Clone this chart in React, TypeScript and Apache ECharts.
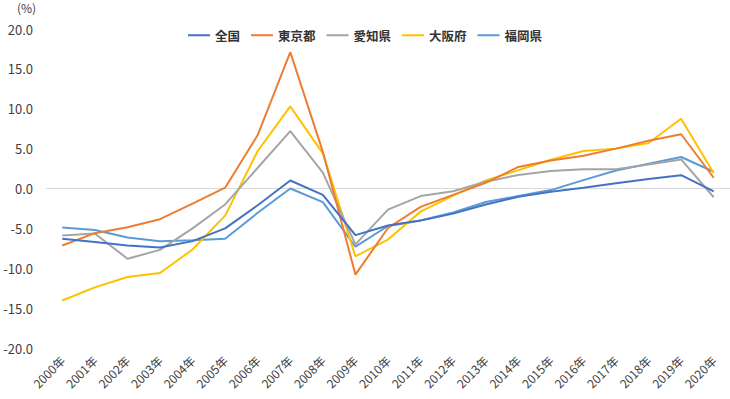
import React, { useEffect, useRef } from "react";
import * as echarts from "echarts";

const years = [
  "2000年", "2001年", "2002年", "2003年", "2004年", "2005年", "2006年", "2007年", "2008年", "2009年", "2010年",
  "2011年", "2012年", "2013年", "2014年", "2015年", "2016年", "2017年", "2018年", "2019年", "2020年",
];
const zenkoku = [-6.3, -6.7, -7.15, -7.4, -6.6, -5.0, -2.1, 1.0, -0.8, -5.85, -4.65, -4.0, -3.15, -2.0, -1.05, -0.4, 0.1, 0.65, 1.2, 1.67, -0.35];
const tokyo = [-7.15, -5.6, -4.85, -3.85, -1.9, 0.1, 6.7, 17.1, 4.6, -10.8, -4.95, -2.3, -0.8, 0.7, 2.7, 3.5, 4.1, 5.0, 6.0, 6.8, 1.35];
const aichi = [-5.9, -5.65, -8.8, -7.7, -5.0, -2.0, 2.6, 7.2, 2.0, -7.0, -2.65, -0.95, -0.35, 0.85, 1.7, 2.2, 2.4, 2.4, 3.0, 3.65, -1.1];
const osaka = [-14.05, -12.4, -11.1, -10.6, -7.65, -3.4, 4.7, 10.3, 4.4, -8.5, -6.4, -2.9, -0.9, 1.0, 2.3, 3.6, 4.7, 5.0, 5.7, 8.75, 1.9];
const fukuoka = [-4.9, -5.2, -6.15, -6.6, -6.5, -6.3, -3.05, 0.0, -1.7, -7.3, -4.7, -4.0, -3.0, -1.7, -0.95, -0.2, 1.05, 2.25, 3.1, 3.95, 2.1];

const seriesNames = ["全国", "東京都", "愛知県", "大阪府", "福岡県"];
const seriesData = [zenkoku, tokyo, aichi, osaka, fukuoka];
const colors = ["#4472C4", "#ED7D31", "#A5A5A5", "#FFC000", "#5B9BD5"];

const FONT = "'Noto Sans CJK JP', 'Noto Sans', sans-serif";

export default function App() {
  const ref = useRef<HTMLDivElement>(null);
  useEffect(() => {
    if (!ref.current) return;
    const chart = echarts.init(ref.current, null, { renderer: "svg" });
    chart.setOption({
      animation: false,
      color: colors,
      textStyle: { fontFamily: FONT },
      graphic: [
        {
          type: "text",
          left: 17,
          top: 1,
          style: { text: "(%)", fontSize: 12, fill: "#404040", fontFamily: FONT },
        },
      ],
      legend: {
        top: 24,
        left: "center",
        icon: "rect",
        itemWidth: 22,
        itemHeight: 2,
        itemGap: 11,
        textStyle: { fontSize: 12.5, color: "#333333", fontFamily: FONT, fontWeight: "bold" },
        data: seriesNames,
      },
      grid: { left: 46, top: 29, width: 685, height: 319, containLabel: false },
      xAxis: {
        type: "category",
        data: years,
        boundaryGap: true,
        axisLine: { show: false },
        axisTick: { show: false },
        axisLabel: {
          rotate: 45,
          interval: 0,
          margin: 10,
          fontSize: 12,
          color: "#404040",
          fontFamily: FONT,
        },
      },
      yAxis: {
        type: "value",
        min: -20,
        max: 20,
        interval: 5,
        axisLine: { show: false },
        axisTick: { show: false },
        splitLine: { show: false },
        axisLabel: {
          margin: 13,
          fontSize: 13,
          color: "#404040",
          fontFamily: FONT,
          formatter: (v: number) => v.toFixed(1),
        },
      },
      series: seriesNames.map((name, i) => ({
        name,
        type: "line",
        data: seriesData[i],
        symbol: "none",
        lineStyle: { width: 2, color: colors[i] },
        itemStyle: { color: colors[i] },
        z: 10 - i,
        markLine:
          i === 0
            ? {
                silent: true,
                symbol: "none",
                label: { show: false },
                lineStyle: { color: "#D9D9D9", width: 1, type: "solid" },
                data: [{ yAxis: 0 }],
                z: 1,
              }
            : undefined,
      })),
    });
    return () => chart.dispose();
  }, []);
  return <div ref={ref} style={{ position: "absolute", left: 0, top: 0, width: 730, height: 399 }} />;
}
